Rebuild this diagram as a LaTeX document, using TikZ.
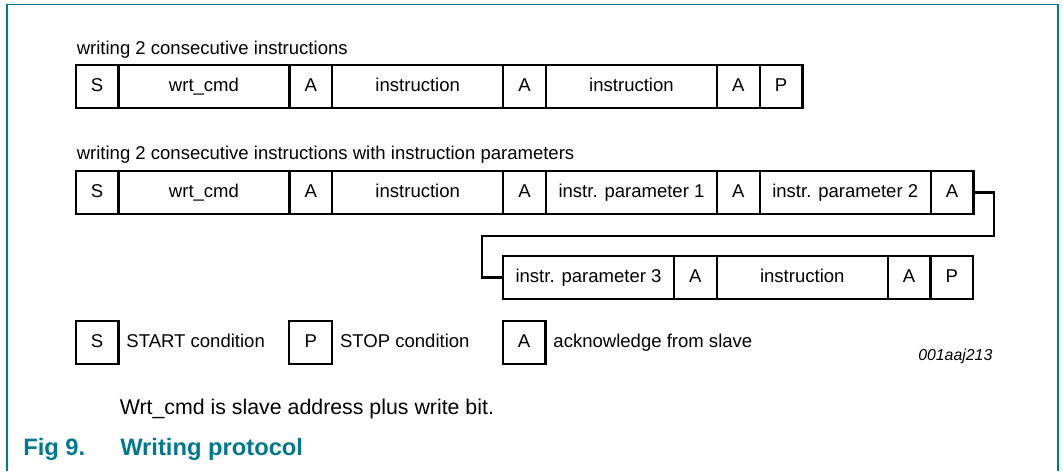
\documentclass[tikz,border=0pt]{standalone}
\usepackage{fontspec}
\setmainfont{Liberation Sans}
\usetikzlibrary{positioning}
\definecolor{nxpteal}{RGB}{0,121,140}

\begin{document}
\begin{tikzpicture}[x=0.75pt,y=-0.75pt,
        fld/.style={draw,line width=1.7pt,inner sep=0pt,outer sep=0pt,
            minimum width=32.06pt,minimum height=32.2pt,
            text height=0.78em,text depth=0pt,font=\fontsize{13.9}{16}\selectfont},
        wide/.style={fld,minimum width=128.25pt},
        lbl/.style={anchor=base west,inner sep=0pt,font=\fontsize{13.9}{16}\selectfont},
        legtxt/.style={inner sep=0pt,outer sep=0pt,text height=0.78em,text depth=0pt,
            font=\fontsize{13.9}{16}\selectfont},
        wire/.style={line width=1.7pt}]
                \useasboundingbox (0,0) rectangle (1063,471);
                \draw[nxpteal,line width=1.1pt] (7,471) -- (7,4.5) -- (1058,4.5) -- (1058,471);

                % first frame
                \node[lbl] (title1) at (76.5,54) {writing 2 consecutive instructions};
                \node[fld] (r1s) at (97.1,86.3) {S};
                \node[wide,right=0pt of r1s] (r1cmd) {wrt\_cmd};
                \node[fld,right=0pt of r1cmd] (r1a1) {A};
                \node[wide,right=0pt of r1a1] (r1ins1) {instruction};
                \node[fld,right=0pt of r1ins1] (r1a2) {A};
                \node[wide,right=0pt of r1a2] (r1ins2) {instruction};
                \node[fld,right=0pt of r1ins2] (r1a3) {A};
                \node[fld,right=0pt of r1a3] (r1p) {P};

                % second frame
                \node[lbl] (title2) at (76.5,159.5) {writing 2 consecutive instructions with instruction parameters};
                \node[fld] (r2s) at (97.1,192.5) {S};
                \node[wide,right=0pt of r2s] (r2cmd) {wrt\_cmd};
                \node[fld,right=0pt of r2cmd] (r2a1) {A};
                \node[wide,right=0pt of r2a1] (r2ins) {instruction};
                \node[fld,right=0pt of r2ins] (r2a2) {A};
                \node[wide,right=0pt of r2a2] (r2par1) {instr. parameter 1};
                \node[fld,right=0pt of r2par1] (r2a3) {A};
                \node[wide,right=0pt of r2a3] (r2par2) {instr. parameter 2};
                \node[fld,right=0pt of r2par2] (r2a4) {A};

                \node[wide] (r3par3) at (588.5,277.5) {instr. parameter 3};
                \node[fld,right=0pt of r3par3] (r3a1) {A};
                \node[wide,right=0pt of r3a1] (r3ins) {instruction};
                \node[fld,right=0pt of r3ins] (r3a2) {A};
                \node[fld,right=0pt of r3a2] (r3p) {P};

                \coordinate (bendR) at (994,236);
                \coordinate (bendL) at (482,236);
                \draw[wire] (r2a4.east) -| (bendR) -- (bendL) |- (r3par3.west);

                % legend
                \node[fld] (legs) at (97.1,342.5) {S};
                \node[legtxt,right=6pt of legs] (legstxt) {START condition};
                \node[fld] (legp) at (310.7,342.5) {P};
                \node[legtxt,right=6pt of legp] (legptxt) {STOP condition};
                \node[fld] (lega) at (524.1,342.5) {A};
                \node[legtxt,right=6pt of lega] (legatxt) {acknowledge from slave};
                \node[anchor=base west,inner sep=0pt,font=\fontsize{11.9}{14}\selectfont\itshape] (figid) at (918,360.7) {001aaj213};

                \node[anchor=base west,inner sep=0pt,font=\fontsize{16}{19}\selectfont] (note) at (119.5,414) {Wrt\_cmd is slave address plus write bit.};
                \node[anchor=base west,inner sep=0pt,text=nxpteal,font=\fontsize{17.8}{21}\selectfont\bfseries] (fignum) at (23,455.5) {Fig 9.};
                \node[anchor=base west,inner sep=0pt,text=nxpteal,font=\fontsize{17.8}{21}\selectfont\bfseries] (figtitle) at (120,455.5) {Writing protocol};
            \end{tikzpicture}
\end{document}
